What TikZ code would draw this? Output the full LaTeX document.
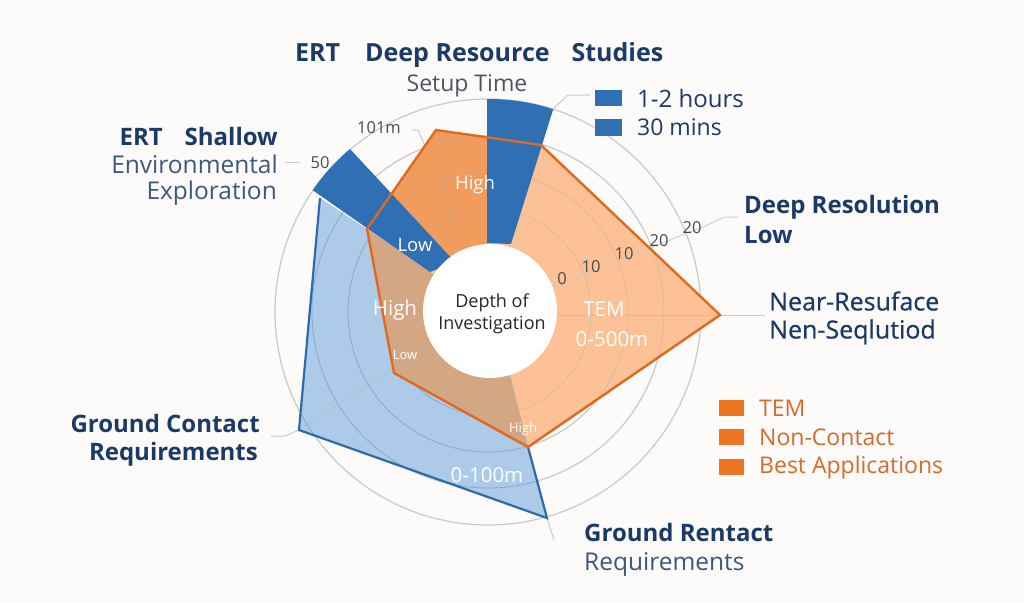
\documentclass[tikz,border=0pt]{standalone}
\usepackage{fontspec}
\setmainfont{Open Sans}
\newfontface\semiface{Open Sans}[FakeBold=0.6]
\definecolor{navy}{HTML}{1B3A66}
\definecolor{slatec}{HTML}{4B5663}
\definecolor{ringc}{HTML}{C9C9C7}
\definecolor{bluew}{HTML}{2F70B5}
\definecolor{blueedge}{HTML}{2F6BA8}
\definecolor{bluelight}{HTML}{ADCBE8}
\definecolor{orangeedge}{HTML}{E0691F}
\definecolor{orangelight}{HTML}{FCC195}
\definecolor{orangedark}{HTML}{F19C5C}
\definecolor{brownmix}{HTML}{D3A784}
\definecolor{swatchor}{HTML}{EE7623}
\definecolor{legor}{HTML}{D9692A}
\definecolor{paper}{HTML}{FCFBF9}
\tikzset{
  ring/.style={draw=ringc,line width=1.2pt},
  spoke/.style={draw=ringc,line width=1pt},
  inspoke/.style={draw=black!30,draw opacity=.45,line width=.8pt},
  head/.style={font=\bfseries\fontsize{24}{28}\selectfont,text=navy,inner sep=0pt},
  semi/.style={font=\semiface\fontsize{25}{28}\selectfont,text=navy,inner sep=0pt},
  sub/.style={font=\fontsize{24.5}{28}\selectfont,text=navy!85,inner sep=0pt},
  tick/.style={font=\fontsize{16.5}{18}\selectfont,text=black!70,inner sep=0pt},
  onfill/.style={font=\fontsize{18.5}{22}\selectfont,text=white,inner sep=0pt},
  tiny/.style={font=\fontsize{13}{16}\selectfont,text=white,inner sep=0pt},
  leg/.style={font=\fontsize{23}{25}\selectfont,inner sep=0pt,anchor=west},
}
\begin{document}
\begin{tikzpicture}[x=1pt,y=-1pt]
\useasboundingbox (0,0) rectangle (1024,602);
\fill[paper] (0,0) rectangle (1024,602);
\coordinate (c) at (488,312);
% rings
\foreach \r in {103,140,176,213} \draw[ring] (c) circle[radius=\r];
% light blue polygon
\coordinate (b1) at (320,198);
\coordinate (b2) at (299,430);
\coordinate (b3) at (547,518);
\coordinate (v1) at (436,130);
\coordinate (v2) at (541,145);
\coordinate (v3) at (720,315);
\coordinate (v4) at (528,447);
\coordinate (v5) at (394,373);
\coordinate (v6) at (367,229);
\fill[bluelight] (b1)--(b2)--(b3)--(v4)--(v5)--(v6)--cycle;
\begin{scope}
\clip (b1)--(b2)--(b3)--(v4)--(v5)--(v6)--cycle;
\foreach \r in {103,140,176,213} \draw[inspoke,draw=blueedge,draw opacity=.35] (c) circle[radius=\r];
\end{scope}
% orange polygon
\fill[orangelight] (v1)--(v2)--(v3)--(v4)--(v5)--(v6)--cycle;
% dark sector
\fill[orangedark] (v1)--(487,137)--(487,250)--(440,262)--(392,194)--(v6)--cycle;
% brown overlap
\fill[brownmix] (v6)--(v5)--(v4)--(510,375)--(488,312)--(430,272)--cycle;
\begin{scope}
\clip (v1)--(v2)--(v3)--(v4)--(v5)--(v6)--cycle;
\foreach \r in {103,140,176} \draw[inspoke] (c) circle[radius=\r];
\end{scope}
% spokes
\coordinate (sr0) at (555,315);
\coordinate (sr1) at (765,315);
\draw[inspoke] (sr0)--(v3);
\draw[spoke] (v3)--(sr1);
\coordinate (z0) at (552,287);
\coordinate (z1) at (705,226);
\coordinate (z2) at (725,217);
\coordinate (z3) at (738,217);
\draw[spoke,draw opacity=.8] (z0)--(z1)--(z2)--(z3);
\coordinate (ll0) at (430,345);
\coordinate (ll1) at (285,436);
\coordinate (ll2) at (271,436);
\draw[inspoke] (ll0)--(b2);
\draw[spoke] (b2)--(ll1)--(ll2);
\coordinate (gr1) at (554,540);
\draw[spoke] (b3)--(gr1);
\coordinate (fi1) at (285,162);
\coordinate (fi2) at (300,162);
\draw[spoke] (fi1)--(fi2);
\coordinate (te1) at (412,130);
\coordinate (te2) at (418,130);
\coordinate (te3) at (425,146);
\draw[spoke] (te1)--(te2)--(te3);
\coordinate (bl1) at (553,109);
\coordinate (bl2) at (568,95);
\coordinate (bl3) at (590,95);
\draw[spoke] (bl1)--(bl2)--(bl3);
% faint spokes in light area
\draw[inspoke] (v1)--(458,252);
\draw[inspoke] (v4)--(510,377);
% blue wedges
\fill[bluew] (487,99) arc[start angle=-90.3,end angle=-72.2,radius=213]--(511,244)--(487,243)--cycle;
\fill[bluew] (350,149) arc[start angle=-130.3,end angle=-145.3,radius=213]--(430,272)--(455,262)--cycle;
% outlines
\draw[blueedge,line width=2.2pt,line join=miter] (b1)--(b2)--(b3)--(v4);
\draw[orangeedge,line width=2.4pt,line join=miter] (v1)--(v2)--(v3)--(v4)--(v5)--(v6)--cycle;
% hub
\fill[white] (490,311) circle[radius=67];
\node[font=\fontsize{18}{21.5}\selectfont,text=black!85,align=center,inner sep=0pt] (hub) at (492,314) {Depth of\\Investigation};
% title
\node[head,font=\bfseries\fontsize{25}{28}\selectfont,anchor=west] (title) at (295,55) {ERT\hspace{25pt}Deep Resource\hspace{22pt}Studies};
\node[font=\fontsize{23}{26}\selectfont,text=slatec,inner sep=0pt] (setup) at (467,86) {Setup Time};
% left labels
\node[head,anchor=east] (shallow) at (278,136) {ERT\hspace{22pt}Shallow};
\node[sub,anchor=east] (env) at (278,164) {Environmental};
\node[sub,anchor=east] (expl) at (277,193) {Exploration};
\node[tick] (t50) at (320,163) {50};
\node[tick] (t101) at (379,128) {101m};
% on-fill
\node[onfill] (h1) at (475,185) {High};
\node[onfill] (l1) at (415,245) {Low};
\node[onfill,font=\fontsize{20.5}{24}\selectfont] (h2) at (395,310) {High};
\node[tiny] (l2) at (405,355) {Low};
\node[tiny] (h3) at (523,429) {High};
\node[onfill,font=\fontsize{20.5}{24}\selectfont] (r1) at (487,475) {0-100m};
\node[onfill,font=\fontsize{20.5}{24}\selectfont] (tem) at (604,309) {TEM};
\node[onfill,font=\fontsize{20.5}{24}\selectfont] (r2) at (612,339) {0-500m};
% ticks
\node[tick] at (562,279) {0};
\node[tick] at (591,267) {10};
\node[tick] at (624,254) {10};
\node[tick] at (659,241) {20};
\node[tick] at (692,228) {20};
% right labels
\node[head,anchor=west] (deep) at (744,207) {Deep Resolution};
\node[head,anchor=west] (low) at (744,235) {Low};
\node[semi,anchor=west] (near) at (769,301) {Near-Resuface};
\node[semi,anchor=west] (nen) at (769,332) {Nen-Seqlutiod};
% lower labels
\node[head,anchor=east] (gc) at (260,423) {Ground Contact};
\node[head,anchor=east] (req) at (258,454) {Requirements};
\node[head,anchor=west] (gr) at (584,532) {Ground Rentact};
\node[sub,anchor=west] (req2) at (584,564) {Requirements};
% legends
\fill[bluew] (595,90) rectangle (622,106);
\fill[bluew] (595,119) rectangle (622,136);
\node[leg,text=navy,font=\fontsize{24}{26}\selectfont] (lg1) at (637,98) {1-2 hours};
\node[leg,text=navy] (lg2) at (637,127) {30 mins};
\fill[swatchor] (719,400) rectangle (744,416);
\fill[swatchor] (719,429) rectangle (744,445);
\fill[swatchor] (719,459) rectangle (744,475);
\node[leg,text=legor] (lo1) at (759,408) {TEM};
\node[leg,text=legor] (lo2) at (759,437) {Non-Contact};
\node[leg,text=legor] (lo3) at (759,468) {Best Applications};
\end{tikzpicture}
\end{document}
